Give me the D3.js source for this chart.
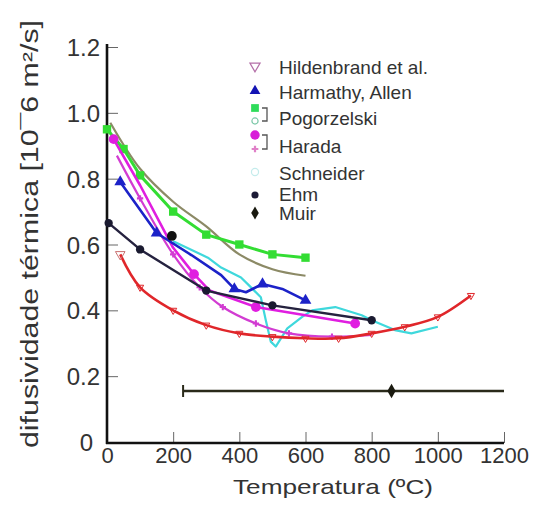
<!DOCTYPE html>
<html><head><meta charset="utf-8">
<script src="https://cdn.jsdelivr.net/npm/d3@7"></script>
<style>
html,body{margin:0;padding:0;background:#fff;}
svg text{font-family:"Liberation Sans",Arial,sans-serif;fill:#333;}
</style></head>
<body><svg id="c" width="538" height="521"></svg>
<script>
// ---- data ----
const xTicks = [0,200,400,600,800,1000,1200];
const yTicks = [0,0.2,0.4,0.6,0.8,1.0,1.2];
const yTickLabels = ["0","0.2","0.4","0.6","0.8","1.0","1.2"];
const legendNames = ["Hildenbrand et al.","Harmathy, Allen","Pogorzelski","Harada","Schneider","Ehm","Muir"];

const hildenbrand = [[40,0.57],[100,0.47],[200,0.40],[300,0.355],[400,0.33],[500,0.32],[600,0.315],[700,0.315],[800,0.33],[900,0.35],[1000,0.38],[1100,0.445]];
const harmathy = [[40,0.79],[150,0.635],[255,0.568],[345,0.507],[385,0.465],[420,0.455],[470,0.48],[530,0.465],[600,0.43]];
const harmathyMarks = [[40,0.79],[150,0.635],[385,0.465],[470,0.48],[600,0.43]];
const pogorzelskiA = [[0,0.95],[50,0.89],[100,0.81],[200,0.70],[300,0.63],[400,0.60],[500,0.57],[600,0.56]];
const pogorzelskiB = [[10,0.97],[100,0.83],[200,0.73],[300,0.655],[400,0.57],[500,0.525],[600,0.505]];
const haradaA = [[20,0.92],[100,0.78],[200,0.59],[263,0.51],[310,0.46],[450,0.41],[750,0.36]];
const haradaAMarks = [[20,0.92],[263,0.51],[450,0.41],[750,0.36]];
const haradaB = [[30,0.87],[100,0.74],[200,0.57],[280,0.47],[350,0.41],[450,0.36],[550,0.33],[680,0.32],[800,0.325]];
const schneider = [[200,0.61],[305,0.56],[345,0.53],[405,0.50],[430,0.475],[465,0.44],[480,0.37],[495,0.305],[510,0.29],[545,0.345],[590,0.38],[620,0.40],[690,0.41],[770,0.385],[800,0.37],[870,0.34],[920,0.33],[1000,0.35]];
const ehm = [[5,0.665],[100,0.585],[300,0.46],[500,0.415],[800,0.37]];
const ehmExtra = [[196,0.626]];
const muir = [[860,0.155]];
const muirRange = [[230,1200]];

// ---- chart ----
const svg = d3.select("#c");
const x = d3.scaleLinear().domain([0,1200]).range([107,504]);
const y = d3.scaleLinear().domain([0,1.2]).range([442,47]);

// ticks (inward)
const gx = svg.append("g").attr("transform","translate(0,443)")
  .call(d3.axisBottom(x).tickValues(xTicks).tickSize(-11).tickFormat(d=>d));
gx.select(".domain").remove();
gx.selectAll(".tick line").attr("stroke","#666").attr("stroke-width",1);
gx.selectAll(".tick text").attr("font-size","22px").attr("y",20).attr("dy","0").attr("fill","#333")
  .style("font-family","Liberation Sans, Arial, sans-serif");

const gy = svg.append("g").attr("transform","translate(107,0)")
  .call(d3.axisLeft(y).tickValues(yTicks).tickSize(-11).tickFormat((d,i)=>yTickLabels[i]));
gy.select(".domain").remove();
gy.selectAll(".tick line").attr("stroke","#666").attr("stroke-width",1);
gy.selectAll(".tick text").attr("font-size","24px").attr("x",(d)=>d===0?-14:-7).attr("dy","0.36em").attr("fill","#333")
  .style("font-family","Liberation Sans, Arial, sans-serif");

// axis lines
svg.append("line").attr("x1",107).attr("x2",107).attr("y1",44).attr("y2",444).attr("stroke","#111").attr("stroke-width",2.6);
svg.append("line").attr("x1",106).attr("x2",504).attr("y1",443).attr("y2",443).attr("stroke","#111").attr("stroke-width",2.6);

// titles
svg.append("text").attr("x",333).attr("y",494).attr("text-anchor","middle")
  .attr("font-size","21px").attr("textLength",200).attr("lengthAdjust","spacingAndGlyphs")
  .text("Temperatura  (ºC)");
svg.append("text").attr("transform","translate(38,234) rotate(-90)").attr("text-anchor","middle")
  .attr("font-size","23px").attr("textLength",428).attr("lengthAdjust","spacingAndGlyphs")
  .text("difusividade térmica [10¯6 m²/s]");

const plot = svg.append("g");
function path(data, color, w, curve){
  plot.append("path").datum(data)
    .attr("d", d3.line().x(d=>x(d[0])).y(d=>y(d[1])).curve(curve||d3.curveLinear))
    .attr("fill","none").attr("stroke",color).attr("stroke-width",w).attr("stroke-linejoin","round");
}
function sym(data, type, size, fill, stroke, rot){
  plot.selectAll(null).data(data).enter().append("path")
    .attr("d", d3.symbol().type(type).size(size))
    .attr("transform", d=>`translate(${x(d[0])},${y(d[1])}) rotate(${rot||0})`)
    .attr("fill", fill).attr("stroke", stroke||"none").attr("stroke-width",1);
}

path(pogorzelskiB, "#8c8a66", 2.2, d3.curveCatmullRom);
path(pogorzelskiA, "#33dd33", 3);
sym(pogorzelskiA, d3.symbolSquare, 70, "#33dd33");
path(schneider, "#3fd8dc", 2.2);
path(haradaB, "#d23cd2", 2.2, d3.curveCatmullRom);
sym(haradaB.slice(1,-1), d3.symbolCross, 22, "#d23cd2");
path(haradaA, "#e01ee0", 2.6);
sym(haradaAMarks, d3.symbolCircle, 75, "#e01ee0");
path(harmathy, "#1c22c8", 2.6);
sym(harmathyMarks, d3.symbolTriangle, 60, "#1c22c8");
path(ehm, "#25223f", 2.4);
sym(ehm, d3.symbolCircle, 55, "#1a1a30");
sym(ehmExtra, d3.symbolCircle, 75, "#111");
path(hildenbrand, "#e0262a", 2.6, d3.curveCatmullRom);
sym(hildenbrand.slice(1), d3.symbolTriangle, 22, "none", "#e0262a", 180);
sym([hildenbrand[0]], d3.symbolTriangle, 40, "none", "#c97070", 180);

// Muir error bar
muirRange.forEach((r,i)=>{
  const yy = y(muir[i][1]);
  plot.append("line").attr("x1",x(r[0])).attr("x2",x(r[1])).attr("y1",yy).attr("y2",yy)
    .attr("stroke","#2a2a1a").attr("stroke-width",2.4);
  plot.append("line").attr("x1",x(r[0])).attr("x2",x(r[0])).attr("y1",yy-6).attr("y2",yy+6)
    .attr("stroke","#2a2a1a").attr("stroke-width",2);
});
sym(muir, d3.symbolDiamond, 60, "#1a1a10");

// legend
const lg = svg.append("g");
const rowsY = [67,92,118,146,173,194,213];
lg.selectAll("text").data(legendNames).enter().append("text")
  .attr("x",279).attr("y",(d,i)=>rowsY[i]).attr("dy","0.36em")
  .attr("font-size","19px").attr("fill","#333").text(d=>d);
function lsym(cx, cy, type, size, fill, stroke, rot){
  lg.append("path").attr("d", d3.symbol().type(type).size(size))
    .attr("transform",`translate(${cx},${cy}) rotate(${rot||0})`)
    .attr("fill",fill).attr("stroke",stroke||"none").attr("stroke-width",1.2);
}
lsym(255,66,d3.symbolTriangle,45,"#fff","#b46fa8",180);
lsym(255,91,d3.symbolTriangle,50,"#1414b4");
lsym(255,108,d3.symbolSquare,60,"#2fdc5a");
lsym(255,121,d3.symbolCircle,30,"#fff","#7cc8a8");
lsym(255,135,d3.symbolCircle,70,"#d81ed8");
lsym(255,149,d3.symbolCross,25,"#e080c8");
lsym(255,172,d3.symbolCircle,40,"#fff","#c4ecec");
lsym(255,195,d3.symbolCircle,40,"#1c1a36");
lsym(255,213,d3.symbolDiamond,50,"#1a1a10");
// brackets
[[108,121],[135,149]].forEach(b=>{
  lg.append("path").attr("d",`M262,${b[0]} H267 V${b[1]} H262`)
    .attr("fill","none").attr("stroke","#555").attr("stroke-width",1.3);
});
</script></body></html>
